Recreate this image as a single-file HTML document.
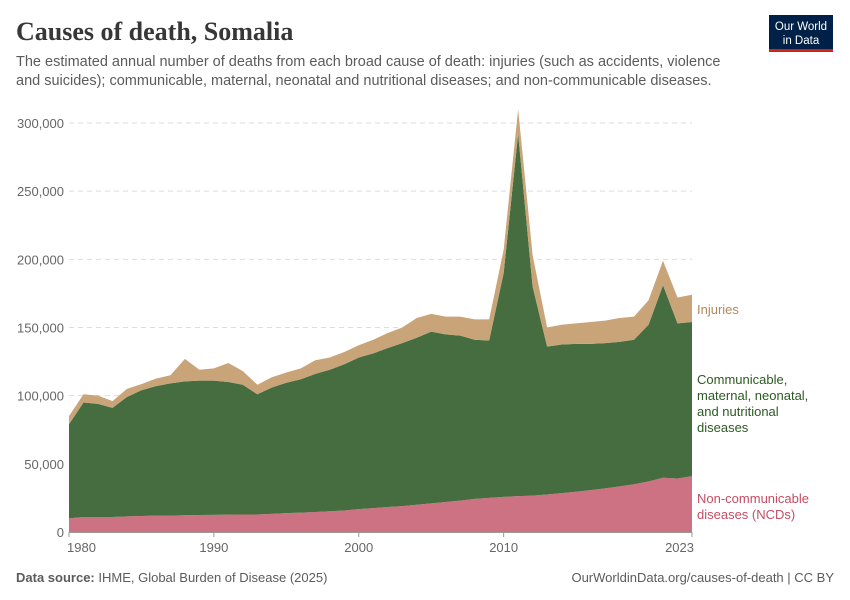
<!DOCTYPE html>
<html><head><meta charset="utf-8"><style>
body{margin:0;background:#fff;font-family:"Liberation Sans",sans-serif;}
#wrap{position:relative;width:850px;height:600px;overflow:hidden;}
</style></head><body>
<div id="wrap">
<svg id="svg" width="850" height="600" xmlns="http://www.w3.org/2000/svg">
<text x="16" y="40" font-family="Liberation Serif, serif" font-size="26" font-weight="bold" fill="#373737">Causes of death, Somalia</text>
<text x="16" y="66" font-size="14.5" fill="#5b5b5b"><tspan x="16">The estimated annual number of deaths from each broad cause of death: injuries (such as accidents, violence</tspan><tspan x="16" dy="19">and suicides); communicable, maternal, neonatal and nutritional diseases; and non-communicable diseases.</tspan></text>
<g>
<rect x="769" y="15" width="64" height="35" fill="#002147"/>
<rect x="769" y="49" width="64" height="3" fill="#ce261e"/>
<text x="801" y="30" font-size="11.5" fill="#fff" text-anchor="middle">Our World</text>
<text x="801" y="44" font-size="11.5" fill="#fff" text-anchor="middle">in Data</text>
</g>
<g id="grid"></g>
<g id="areas"></g>
<g id="axes"></g>
<text x="697" y="314" font-size="13" fill="#b2895a">Injuries</text>
<text font-size="13" fill="#2c5a22"><tspan x="697" y="384">Communicable,</tspan><tspan x="697" y="400">maternal, neonatal,</tspan><tspan x="697" y="416">and nutritional</tspan><tspan x="697" y="432">diseases</tspan></text>
<text font-size="13" fill="#c44d64"><tspan x="697" y="503">Non-communicable</tspan><tspan x="697" y="519">diseases (NCDs)</tspan></text>
<text x="16" y="582" font-size="13" fill="#5b5b5b"><tspan font-weight="bold">Data source:</tspan> IHME, Global Burden of Disease (2025)</text>
<text x="834" y="582" font-size="13" fill="#5b5b5b" text-anchor="end">OurWorldinData.org/causes-of-death | CC BY</text>
</svg>
</div>
<script>
const years=[];for(let y=1980;y<=2023;y++)years.push(y);
const ncd=[10,11,11,11,11.5,11.7,12,12,12.3,12.5,12.6,12.7,12.8,12.8,13.3,13.8,14.2,14.7,15.2,15.8,16.8,17.5,18.3,19,20,21,22,23,24.3,25,25.8,26.3,26.7,27.5,28.5,29.5,30.7,32,33.5,35,37,39.8,39.2,41];
const cmnn=[69,84,83,80,87.5,92.3,95,97,98.2,98.5,98.4,97.3,95.2,88.2,92.7,95.7,97.8,101.3,103.8,107.2,111.2,113.5,116.7,119.5,122.5,126,123,121,116.7,115.5,164.2,265.7,153.3,108.5,109,108.5,107.3,106.5,106,106,115,141.2,113.8,113];
const injuries=[6,6,6,5,6,4.5,5.5,6,16.5,8,9,14,10,7,7.5,7.5,8,10,9,9,9,10,11,11.5,14.5,13,13,14,15,15.5,17,18,23,14,14.5,15,16,16.5,17.5,17,18,18,19,20];
const yTicks=[0,50000,100000,150000,200000,250000,300000];
const xTicks=[1980,1990,2000,2010,2023];
const NS="http://www.w3.org/2000/svg";
const xs=y=>69+(y-1980)*(692-69)/43;
const ys=v=>532-v*(532-123)/300;
function mk(t,a,p){const e=document.createElementNS(NS,t);for(const k in a)e.setAttribute(k,a[k]);p.appendChild(e);return e;}
const grid=document.getElementById('grid'),areas=document.getElementById('areas'),axes=document.getElementById('axes');
yTicks.forEach(v=>{
 if(v>0){const l=mk('line',{x1:69,x2:692,y1:ys(v/1000),y2:ys(v/1000),stroke:'#ddd','stroke-dasharray':'5,4'},grid);
 
 }
 const t=mk('text',{x:64,y:ys(v/1000)+5,'font-size':13,fill:'#666','text-anchor':'end'},axes);
 t.textContent=v.toLocaleString('en-US');
 
 
});
mk('line',{x1:69,x2:692,y1:532.5,y2:532.5,stroke:'#999'},axes);
xTicks.forEach(y=>{
 mk('line',{x1:xs(y),x2:xs(y),y1:532,y2:537,stroke:'#999'},axes);
 const t=mk('text',{x:xs(y),y:552,'font-size':13,fill:'#666','text-anchor':y===1980?'start':(y===2023?'end':'middle')},axes);
 if(y===1980)t.setAttribute('x',xs(y)-2);
 if(y===2023)t.setAttribute('x',xs(y)+2);
 t.textContent=y;
 
 
});
const series=[ncd,cmnn,injuries],colors=['#cc7282','#466d40','#c8a478'],names=['area-ncds','area-communicable','area-injuries'];
let base=years.map(()=>0);
series.forEach((s,i)=>{
 const top=base.map((b,j)=>b+s[j]);
 let d='M'+years.map((y,j)=>xs(y)+','+ys(top[j])).join('L');
 for(let j=years.length-1;j>=0;j--)d+='L'+xs(years[j])+','+ys(base[j]);
 const p=mk('path',{d:d+'Z',fill:colors[i]},areas);
 
 
 base=top;
});
</script>
</body></html>
